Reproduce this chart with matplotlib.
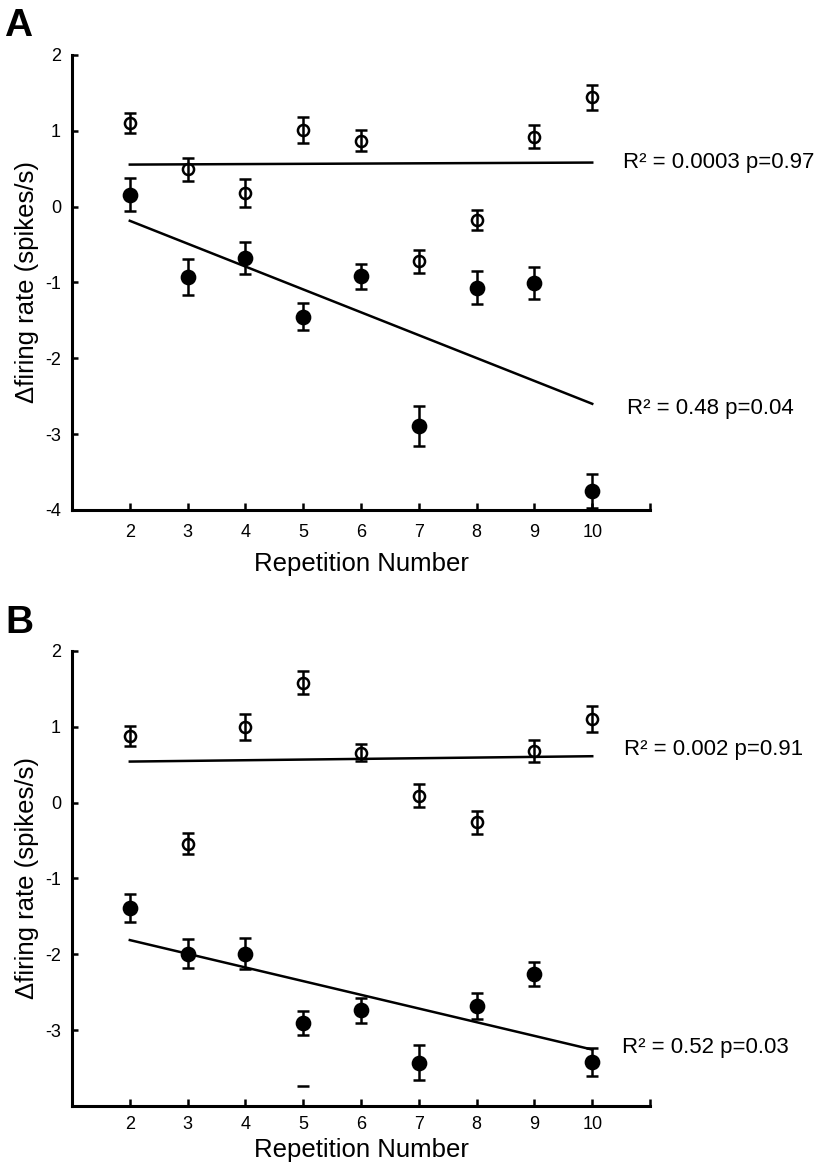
import matplotlib
matplotlib.use("Agg")
from matplotlib import pyplot as plt
import numpy as np

plt.rc("font", family=["Liberation Sans", "DejaVu Sans"], size=12)

reps = [2, 3, 4, 5, 6, 7, 8, 9, 10]

# panel A
a_open = [1.10, 0.49, 0.18, 1.01, 0.87, -0.72, -0.18, 0.92, 1.44]
a_open_err = [0.13, 0.15, 0.18, 0.17, 0.14, 0.15, 0.13, 0.15, 0.16]
a_fill = [0.16, -0.93, -0.68, -1.45, -0.92, -2.89, -1.07, -1.01, -3.75]
a_fill_err = [0.22, 0.24, 0.21, 0.18, 0.17, 0.26, 0.22, 0.21, 0.23]
a_text = ["R\u00b2 = 0.0003 p=0.97", "R\u00b2 = 0.48 p=0.04"]

# panel B
b_open = [0.88, -0.54, 1.00, 1.58, 0.66, 0.09, -0.26, 0.68, 1.10]
b_open_err = [0.13, 0.14, 0.17, 0.15, 0.11, 0.15, 0.15, 0.14, 0.17]
b_fill = [-1.39, -1.99, -1.99, -2.91, -2.74, -3.43, -2.68, -2.26, -3.42]
b_fill_err = [0.18, 0.19, 0.20, 0.16, 0.16, 0.23, 0.17, 0.16, 0.18]
b_text = ["R\u00b2 = 0.002 p=0.91", "R\u00b2 = 0.52 p=0.03"]
b_stray = (5, -3.74)  # loose error cap left in the original figure

fig = plt.figure(figsize=(8.22, 11.67), dpi=100)
axA = fig.add_axes([0.0876, 0.5630, 0.7032, 0.3899])
axB = fig.add_axes([0.0876, 0.0523, 0.7032, 0.3899])


def panel(ax, opn, opn_err, fil, fil_err, texts, ylabels, text_xy, xpad, xlpad):
    x = np.array(reps)
    for y, e, face in [(fil, fil_err, "black"), (opn, opn_err, "none")]:
        ax.errorbar(x, y, yerr=e, fmt="o", ms=9.5 if face == "black" else 8,
                    mfc=face, mec="black", mew=1.8, ecolor="black",
                    elinewidth=1.8, capsize=4.5, capthick=1.8, zorder=3)
        k, b = np.polyfit(x, y, 1)
        xs = np.array([2, 10])
        ax.plot(xs, k * xs + b, color="black", lw=1.8, zorder=2)
    for t, (tx, ty) in zip(texts, text_xy):
        ax.text(tx, ty, t, fontsize=16, va="center", ha="left", clip_on=False)
    ax.set_xlim(1, 11)
    ax.set_ylim(-4, 2)
    ax.set_xticks(range(2, 12))
    ax.set_xticklabels([str(i) for i in range(2, 11)] + [""])
    ax.set_yticks(range(-4, 3))
    ax.set_yticklabels(ylabels)
    ax.tick_params(direction="in", length=4, width=1.8, labelsize=13, pad=8)
    ax.tick_params(axis="x", length=5, pad=xpad)
    for s in ["top", "right"]:
        ax.spines[s].set_visible(False)
    for s in ["left", "bottom"]:
        ax.spines[s].set_linewidth(2.2)
    ax.set_xlabel("Repetition Number", fontsize=18.5, labelpad=xlpad)
    ax.set_ylabel("\u0394firing rate (spikes/s)", fontsize=18.5, labelpad=4)


panel(axA, a_open, a_open_err, a_fill, a_fill_err, a_text,
      ["-4", "-3", "-2", "-1", "0", "1", "2"], [(10.53, 0.58), (10.6, -2.66)], 10, 8)
panel(axB, b_open, b_open_err, b_fill, b_fill_err, b_text,
      ["", "-3", "-2", "-1", "0", "1", "2"], [(10.55, 0.70), (10.52, -3.23)], 7, 4)
axB.plot([b_stray[0]], [b_stray[1]], marker="_", ms=9, mew=1.8, color="black")

fig.text(4 / 822, 1 - 26 / 1167, "A", fontsize=28, fontweight="bold", va="center", ha="left")
fig.text(5 / 822, 1 - 623 / 1167, "B", fontsize=28, fontweight="bold", va="center", ha="left")

plt.savefig("out.png", dpi=100)
